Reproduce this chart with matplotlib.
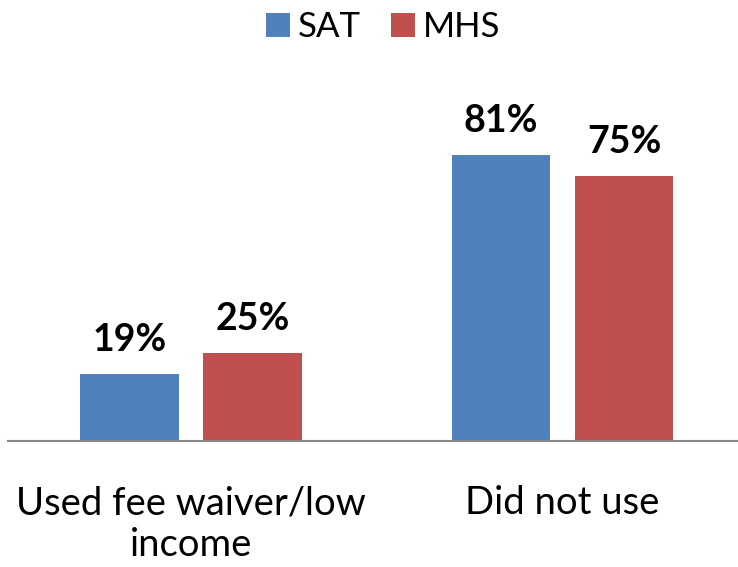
import matplotlib
matplotlib.use("Agg")
import matplotlib.pyplot as plt
import numpy as np

# data
categories = ["Used fee waiver/low\nincome", "Did not use"]
series_names = ["SAT", "MHS"]
sat_values = [19, 81]
mhs_values = [25, 75]
colors = ["#4F81BD", "#C0504D"]

plt.rcParams['font.family'] = ['Lato', 'DejaVu Sans']

fig = plt.figure(figsize=(7.38, 5.67), dpi=100)
# axes: baseline at y=441px, x from 8px to right edge
ax = fig.add_axes([8 / 738, (567 - 441) / 567, 730 / 738, (441 - 60) / 567])

x = np.arange(len(categories))
width = 0.264
offset = 0.1655

all_vals = [sat_values, mhs_values]
for i, (name, vals) in enumerate(zip(series_names, all_vals)):
    pos = x + (offset if i else -offset)
    bars = ax.bar(pos, vals, width, color=colors[i], label=name)
    for b, v in zip(bars, vals):
        ax.text(b.get_x() + b.get_width() / 2, v + 6.5, f"{v}%",
                ha="center", va="baseline", fontsize=27, fontweight="bold")

ax.set_xlim(-0.4926, 1.4724)
ax.set_ylim(0, 108)

for s in ["top", "right", "left"]:
    ax.spines[s].set_visible(False)
ax.spines["bottom"].set_color("#898989")
ax.spines["bottom"].set_linewidth(1.5)
ax.set_yticks([])
ax.set_xticks(x)
ax.set_xticklabels(categories, fontsize=27.5, linespacing=1.2)
ax.tick_params(axis="x", length=0, pad=32)

fig.legend(loc="upper center", bbox_to_anchor=(0.519, 1.035), ncol=2, frameon=False,
           fontsize=25, handlelength=0.7, handleheight=0.7, handletextpad=0.22,
           columnspacing=0.85)

fig.savefig("out.png", dpi=100)
